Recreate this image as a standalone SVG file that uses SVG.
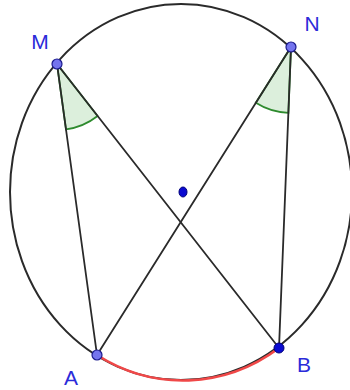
<svg xmlns="http://www.w3.org/2000/svg" width="350" height="390" viewBox="0 0 350 390">
<style>
.lbl{font-family:"Liberation Sans",Arial,sans-serif;font-size:21px;fill:#2b2bd9;text-anchor:middle}
.seg{stroke:#2a2a2a;stroke-width:1.8;fill:none;stroke-linecap:round}
.ang{fill:#dcefdc;stroke:#2e8b2e;stroke-width:1.8}
.pt{fill:#7474ee;stroke:#1a1a8c;stroke-width:1.2}
.ptd{fill:#0a0ad0;stroke:#00007a;stroke-width:1}
</style>
<rect width="350" height="390" fill="#ffffff"/>
<g id="circle">
<ellipse cx="181" cy="192" rx="171" ry="188" fill="none" stroke="#2a2a2a" stroke-width="2"/>
<path d="M97,355 A171,188 0 0,0 279,348" fill="none" stroke="#f04848" stroke-width="2.6"/>
</g>
<g id="angles">
<path class="ang" d="M57,64 L66,129.4 A66,66 0 0,0 97.6,116 Z"/>
<path class="ang" d="M291,47 L255.8,102.8 A66,66 0 0,0 288.4,112.9 Z"/>
</g>
<g id="connectors">
<line class="seg" x1="57" y1="64" x2="97" y2="355"/>
<line class="seg" x1="57" y1="64" x2="279" y2="348"/>
<line class="seg" x1="291" y1="47" x2="97" y2="355"/>
<line class="seg" x1="291" y1="47" x2="279" y2="348"/>
</g>
<g id="center"><ellipse class="ptd" cx="183" cy="192" rx="4" ry="5"/></g>
<g id="M"><circle class="pt" cx="57" cy="64" r="5"/><text class="lbl" x="40" y="49">M</text></g>
<g id="N"><circle class="pt" cx="291" cy="47" r="5"/><text class="lbl" x="312" y="31">N</text></g>
<g id="A"><circle class="pt" cx="97" cy="355" r="5"/><text class="lbl" x="71" y="385">A</text></g>
<g id="B"><circle class="ptd" cx="279" cy="348" r="5"/><text class="lbl" x="304" y="372">B</text></g>
</svg>
